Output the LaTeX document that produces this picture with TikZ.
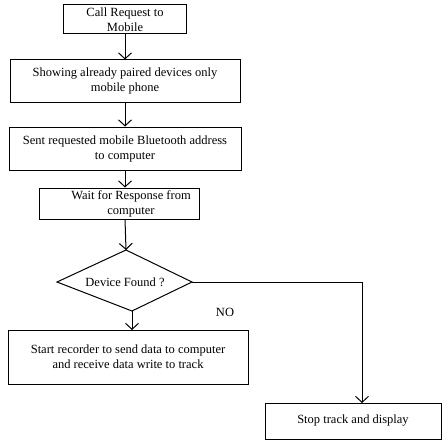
\documentclass[tikz,border=0pt]{standalone}
\usepackage{fontspec}
\setmainfont{Liberation Serif}
\usetikzlibrary{arrows.meta}
\tikzset{
  stepbox/.style={draw,line width=1pt,align=center,inner sep=0pt},
  flow/.style={line width=1pt,-{Straight Barb[length=6pt,width=13pt]}}
	}

\begin{document}
\begin{tikzpicture}[font=\fontsize{12.5}{15}\selectfont]
%
\useasboundingbox (0pt,0pt) rectangle (443pt,-441pt);
%
\node[stepbox,minimum width=123pt,minimum height=29pt] (call) at (125pt,-19.5pt) {Call Request to\\Mobile};
\node[stepbox,minimum width=230pt,minimum height=42pt] (show) at (125pt,-81pt) {Showing already paired devices only\\mobile phone};
\node[stepbox,minimum width=232pt,minimum height=43pt] (sent) at (125pt,-148.5pt) {Sent requested mobile Bluetooth address\\to computer};
\node[stepbox,minimum width=160pt,minimum height=31pt] (wait) at (119pt,-203.5pt) {};
\node[align=center,inner sep=0pt] (waittext) at (131pt,-204pt) {Wait for Response from\\computer};
\node[stepbox,minimum width=240pt,minimum height=54pt] (record) at (128pt,-357pt) {Start recorder to send data to computer\\and receive data write to track};
\node[stepbox,minimum width=176pt,minimum height=36pt] (stop) at (353pt,-421pt) {Stop track and display};
\node (no) at (225pt,-312pt) {NO};
%
% decision
\coordinate (ftop) at (126pt,-250pt);
\coordinate (fleft) at (57pt,-282pt);
\coordinate (fright) at (192pt,-282pt);
\coordinate (fbot) at (132pt,-311pt);
\draw[line width=1pt] (ftop) -- (fright) -- (fbot) -- (fleft) -- cycle;
\node[inner sep=0pt] (found) at (125pt,-282pt) {Device Found ?};
\coordinate (wout) at (125pt,-219pt);
\coordinate (rin) at (132pt,-330pt);
\coordinate (turn) at (362pt,-282pt);
\coordinate (sin) at (362pt,-403pt);
%
\draw[flow] (call) -- (show);
\draw[flow] (show) -- (sent);
\draw[flow] (sent.south) -- (wait.north -| sent.south);
\draw[flow] (wout) -- (ftop);
\draw[flow] (fbot) -- (rin);
\draw[flow] (fright) -- (turn) -- (sin);
%
\end{tikzpicture}
\end{document}
